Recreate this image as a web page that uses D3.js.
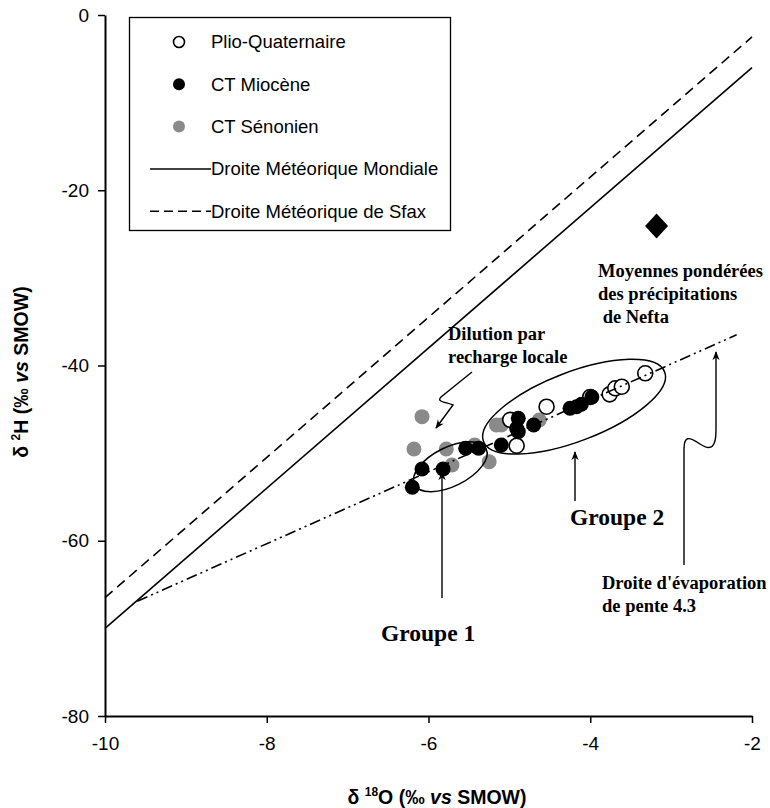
<!DOCTYPE html>
<html>
<head>
<meta charset="utf-8">
<script src="https://cdn.jsdelivr.net/npm/d3@7"></script>
<style>
  html, body { margin: 0; padding: 0; background: #fff; }
  svg { display: block; }
</style>
</head>
<body>
<svg id="chart" width="770" height="808"></svg>
<script>
// δ18O / δ2H values of groundwater samples (‰ vs SMOW)
const plioQuaternaire = [
  [-4.54, -44.70], [-4.91, -49.15], [-4.99, -46.20], [-4.00, -43.59],
  [-3.76, -43.29], [-3.69, -42.60], [-3.61, -42.42], [-3.32, -40.89]
];
const ctMiocene = [
  [-6.20, -53.90], [-6.08, -51.81], [-5.82, -51.81], [-5.54, -49.45],
  [-5.38, -49.45], [-5.10, -49.07], [-4.89, -46.03], [-4.91, -47.17],
  [-4.89, -47.55], [-4.70, -46.79], [-4.25, -44.88], [-4.17, -44.70],
  [-4.11, -44.43], [-3.98, -43.59]
];
const ctSenonien = [
  [-6.08, -45.84], [-6.18, -49.53], [-5.78, -49.53], [-5.43, -49.07],
  [-5.25, -50.98], [-5.71, -51.36], [-5.16, -46.79], [-5.10, -46.79],
  [-4.63, -46.22]
];
// Weighted mean of Nefta precipitation
const nefta = [[-3.18, -24.08]];

// Meteoric water lines: δ2H = slope·δ18O + intercept
const gmwl = { slope: 8, intercept: 10 };
const sfaxLine = { slope: 8, intercept: 13.5 };
// Evaporation line (slope ≈ 4.3)
const evapLine = [[-9.60, -66.9], [-2.19, -36.5]];

// Sample groups (centre in ‰)
const groupes = [
  { name: "Groupe 1", cx: -5.73, cy: -51.55 },
  { name: "Groupe 2", cx: -4.20, cy: -44.70 }
];

const xTicks = [-10, -8, -6, -4, -2];
const yTicks = [0, -20, -40, -60, -80];

const legendItems = [
  { label: "Plio-Quaternaire", type: "open" },
  { label: "CT Miocène", type: "black" },
  { label: "CT Sénonien", type: "grey" },
  { label: "Droite Météorique Mondiale", type: "solid" },
  { label: "Droite Météorique de Sfax", type: "dashed" }
];

const svg = d3.select("#chart");
const margin = { left: 105, right: 18, top: 15, bottom: 92 };
const W = 770, H = 808;
const x = d3.scaleLinear().domain([-10, -2]).range([margin.left, W - margin.right]);
const y = d3.scaleLinear().domain([-80, 0]).range([H - margin.bottom, margin.top]);

const GREY = "#8a8a8a";
const sans = "'Liberation Sans', Arial, sans-serif";
const serif = "'Liberation Serif', 'Times New Roman', serif";

// arrow head marker
const defs = svg.append("defs");
defs.append("marker")
  .attr("id", "arrow").attr("viewBox", "0 0 10 10")
  .attr("refX", 9).attr("refY", 5)
  .attr("markerWidth", 9).attr("markerHeight", 9)
  .attr("markerUnits", "userSpaceOnUse")
  .attr("orient", "auto")
  .append("path").attr("d", "M0,1 L10,5 L0,9 L3,5 Z").attr("fill", "#000");

// axes
const xAxis = d3.axisBottom(x).tickValues(xTicks).tickSize(7).tickSizeOuter(0).tickPadding(14);
const yAxis = d3.axisLeft(y).tickValues(yTicks).tickSize(7).tickSizeOuter(0).tickPadding(9);

const gx = svg.append("g").attr("transform", `translate(0,${y(-80)})`).call(xAxis);
const gy = svg.append("g").attr("transform", `translate(${x(-10)},0)`).call(yAxis);
[gx, gy].forEach(g => {
  g.select(".domain").attr("stroke", "#000").attr("stroke-width", 2);
  g.selectAll(".tick line").attr("stroke", "#000").attr("stroke-width", 1.5);
  g.selectAll(".tick text").attr("fill", "#000")
    .style("font-family", sans).style("font-size", "19px")
    .text(d => String(d));
});

// meteoric lines
const lineGen = d3.line().x(d => x(d[0])).y(d => y(d[1]));
function mwl(p) { return [-10, -2].map(v => [v, p.slope * v + p.intercept]); }

svg.append("path").datum(mwl(sfaxLine)).attr("d", lineGen)
  .attr("fill", "none").attr("stroke", "#000").attr("stroke-width", 1.6)
  .attr("stroke-dasharray", "10,6");
svg.append("path").datum(mwl(gmwl)).attr("d", lineGen)
  .attr("fill", "none").attr("stroke", "#000").attr("stroke-width", 1.6);

// samples
const R = 7.5;
svg.append("g").selectAll("circle").data(ctSenonien).join("circle")
  .attr("cx", d => x(d[0])).attr("cy", d => y(d[1])).attr("r", R).attr("fill", GREY);
svg.append("g").selectAll("circle").data(plioQuaternaire).join("circle")
  .attr("cx", d => x(d[0])).attr("cy", d => y(d[1])).attr("r", R)
  .attr("fill", "#fff").attr("stroke", "#000").attr("stroke-width", 1.6);
svg.append("g").selectAll("circle").data(ctMiocene).join("circle")
  .attr("cx", d => x(d[0])).attr("cy", d => y(d[1])).attr("r", R).attr("fill", "#000");

// Nefta diamond
svg.append("g").selectAll("path").data(nefta).join("path")
  .attr("transform", d => `translate(${x(d[0])},${y(d[1])})`)
  .attr("d", "M0,-12.5 L11.5,0 L0,12.5 L-11.5,0 Z").attr("fill", "#000");

// evaporation line (drawn over samples)
svg.append("path").datum(evapLine).attr("d", lineGen)
  .attr("fill", "none").attr("stroke", "#000").attr("stroke-width", 1.6)
  .attr("stroke-dasharray", "11,4,2,4,2,4");

// group ellipses
const ellipseShape = [{ rx: 40, ry: 19.5, rot: -26.6 }, { rx: 97, ry: 34.5, rot: -21 }];
svg.append("g").selectAll("ellipse").data(groupes).join("ellipse")
  .attr("transform", (d, i) => `translate(${x(d.cx)},${y(d.cy)}) rotate(${ellipseShape[i].rot})`)
  .attr("rx", (d, i) => ellipseShape[i].rx).attr("ry", (d, i) => ellipseShape[i].ry)
  .attr("fill", "none").attr("stroke", "#000").attr("stroke-width", 1.5);

// annotations
const ann = svg.append("g").style("font-family", serif).style("font-weight", "bold").attr("fill", "#000");
function textLines(lines, x0, y0, dy, size) {
  lines.forEach((t, i) => {
    ann.append("text").attr("x", x0).attr("y", y0 + i * dy)
      .style("font-size", size + "px").attr("xml:space", "preserve").text(t);
  });
}
textLines(["Moyennes pondérées", "des précipitations", " de Nefta"], 598, 277, 23, 18.5);
textLines(["Dilution par", "recharge locale"], 448, 340, 23, 18.5);
textLines(["Droite d'évaporation", "de pente 4.3"], 602, 589, 23, 18.5);
ann.append("text").attr("x", 381).attr("y", 641).style("font-size", "23.5px").text("Groupe 1");
ann.append("text").attr("x", 570).attr("y", 525).style("font-size", "23.5px").text("Groupe 2");

const arrows = svg.append("g").attr("fill", "none").attr("stroke", "#000").attr("stroke-width", 1.4);
// Groupe arrows
arrows.append("path").attr("d", "M442,598 L442,472").attr("marker-end", "url(#arrow)");
arrows.append("path").attr("d", "M575,501 L575,452").attr("marker-end", "url(#arrow)");
// dilution squiggle arrow
arrows.append("path")
  .attr("d", "M472,372 L441,397 C436,402 446,402 453,405 L436,428")
  .attr("marker-end", "url(#arrow)");
// evaporation line label arrow
arrows.append("path")
  .attr("d", "M684,565 L684,450 C684,436 688,436 700,444 C712,452 716,446 716,430 L716,352")
  .attr("marker-end", "url(#arrow)");

// legend
const lg = svg.append("g");
lg.append("rect").attr("x", 129.5).attr("y", 17.5).attr("width", 321).attr("height", 213)
  .attr("fill", "#fff").attr("stroke", "#000").attr("stroke-width", 1.3);
const rows = lg.selectAll("g.row").data(legendItems).join("g")
  .attr("class", "row").attr("transform", (d, i) => `translate(0,${42 + i * 42.3})`);
rows.each(function (d) {
  const g = d3.select(this);
  if (d.type === "open") g.append("circle").attr("cx", 179).attr("r", 5.5).attr("fill", "#fff").attr("stroke", "#000").attr("stroke-width", 1.6);
  if (d.type === "black") g.append("circle").attr("cx", 179).attr("r", 6).attr("fill", "#000");
  if (d.type === "grey") g.append("circle").attr("cx", 179).attr("r", 6).attr("fill", GREY);
  if (d.type === "solid") g.append("line").attr("x1", 150).attr("x2", 211).attr("stroke", "#000").attr("stroke-width", 1.5);
  if (d.type === "dashed") g.append("line").attr("x1", 150).attr("x2", 211).attr("stroke", "#000").attr("stroke-width", 1.5).attr("stroke-dasharray", "9,5");
  g.append("text").attr("x", 211).attr("dy", "0.35em").style("font-family", sans)
    .style("font-size", "18.5px").text(d.label);
});

// axis titles
const xt = svg.append("text").attr("x", 437).attr("y", 804).attr("text-anchor", "middle")
  .style("font-family", sans).style("font-size", "19.5px").style("font-weight", "bold");
xt.append("tspan").text("δ ");
xt.append("tspan").attr("dy", -8).style("font-size", "12px").text("18");
xt.append("tspan").attr("dy", 8).text("O (‰ ");
xt.append("tspan").style("font-style", "italic").text("vs");
xt.append("tspan").text(" SMOW)");

const yt = svg.append("text").attr("transform", "translate(28,372) rotate(-90)").attr("text-anchor", "middle")
  .style("font-family", sans).style("font-size", "19.5px").style("font-weight", "bold");
yt.append("tspan").text("δ ");
yt.append("tspan").attr("dy", -8).style("font-size", "12px").text("2");
yt.append("tspan").attr("dy", 8).text("H (‰ ");
yt.append("tspan").style("font-style", "italic").text("vs");
yt.append("tspan").text(" SMOW)");
</script>
</body>
</html>
